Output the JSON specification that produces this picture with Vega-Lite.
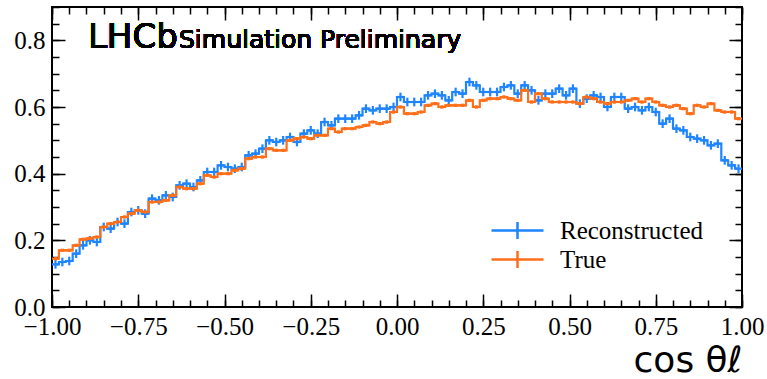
{
"$schema": "https://vega.github.io/schema/vega-lite/v6.json",
"width": 690, "height": 300,
"autosize": {"type": "none"},
"padding": {"left": 52, "top": 7, "right": 25, "bottom": 72},
"background": "white",
"config": {
  "view": {"stroke": "black", "strokeWidth": 2},
  "axis": {"grid": false, "domain": false, "labelFont": "Liberation Serif", "labelFontSize": 25, "labelColor": "black", "tickColor": "black", "tickWidth": 1.5, "labelFlush": false, "labelOverlap": false}
},
"data": {"values": [
{"lo":-1,"hi":-0.98,"c":-0.99,"r":0.128,"t":0.145,"er":0.013,"et":0.005},
{"lo":-0.98,"hi":-0.96,"c":-0.97,"r":0.135,"t":0.17,"er":0.013,"et":0.005},
{"lo":-0.96,"hi":-0.94,"c":-0.95,"r":0.138,"t":0.17,"er":0.013,"et":0.005},
{"lo":-0.94,"hi":-0.92,"c":-0.93,"r":0.16,"t":0.185,"er":0.013,"et":0.005},
{"lo":-0.92,"hi":-0.9,"c":-0.91,"r":0.185,"t":0.203,"er":0.013,"et":0.005},
{"lo":-0.9,"hi":-0.88,"c":-0.89,"r":0.2,"t":0.206,"er":0.013,"et":0.005},
{"lo":-0.88,"hi":-0.86,"c":-0.87,"r":0.195,"t":0.21,"er":0.013,"et":0.005},
{"lo":-0.86,"hi":-0.84,"c":-0.85,"r":0.24,"t":0.24,"er":0.013,"et":0.005},
{"lo":-0.84,"hi":-0.82,"c":-0.83,"r":0.235,"t":0.25,"er":0.013,"et":0.005},
{"lo":-0.82,"hi":-0.8,"c":-0.81,"r":0.255,"t":0.255,"er":0.013,"et":0.005},
{"lo":-0.8,"hi":-0.78,"c":-0.79,"r":0.25,"t":0.27,"er":0.013,"et":0.005},
{"lo":-0.78,"hi":-0.76,"c":-0.77,"r":0.285,"t":0.28,"er":0.013,"et":0.005},
{"lo":-0.76,"hi":-0.74,"c":-0.75,"r":0.29,"t":0.29,"er":0.013,"et":0.005},
{"lo":-0.74,"hi":-0.72,"c":-0.73,"r":0.28,"t":0.285,"er":0.013,"et":0.005},
{"lo":-0.72,"hi":-0.7,"c":-0.71,"r":0.325,"t":0.315,"er":0.013,"et":0.005},
{"lo":-0.7,"hi":-0.68,"c":-0.69,"r":0.32,"t":0.315,"er":0.013,"et":0.005},
{"lo":-0.68,"hi":-0.66,"c":-0.67,"r":0.335,"t":0.32,"er":0.013,"et":0.005},
{"lo":-0.66,"hi":-0.64,"c":-0.65,"r":0.33,"t":0.335,"er":0.013,"et":0.005},
{"lo":-0.64,"hi":-0.62,"c":-0.63,"r":0.365,"t":0.36,"er":0.013,"et":0.005},
{"lo":-0.62,"hi":-0.6,"c":-0.61,"r":0.37,"t":0.355,"er":0.013,"et":0.005},
{"lo":-0.6,"hi":-0.58,"c":-0.59,"r":0.36,"t":0.355,"er":0.013,"et":0.005},
{"lo":-0.58,"hi":-0.56,"c":-0.57,"r":0.38,"t":0.37,"er":0.013,"et":0.005},
{"lo":-0.56,"hi":-0.54,"c":-0.55,"r":0.405,"t":0.395,"er":0.013,"et":0.005},
{"lo":-0.54,"hi":-0.52,"c":-0.53,"r":0.405,"t":0.39,"er":0.013,"et":0.005},
{"lo":-0.52,"hi":-0.5,"c":-0.51,"r":0.425,"t":0.4,"er":0.013,"et":0.005},
{"lo":-0.5,"hi":-0.48,"c":-0.49,"r":0.42,"t":0.4,"er":0.013,"et":0.005},
{"lo":-0.48,"hi":-0.46,"c":-0.47,"r":0.415,"t":0.41,"er":0.013,"et":0.005},
{"lo":-0.46,"hi":-0.44,"c":-0.45,"r":0.42,"t":0.415,"er":0.013,"et":0.005},
{"lo":-0.44,"hi":-0.42,"c":-0.43,"r":0.455,"t":0.445,"er":0.013,"et":0.005},
{"lo":-0.42,"hi":-0.4,"c":-0.41,"r":0.46,"t":0.45,"er":0.013,"et":0.005},
{"lo":-0.4,"hi":-0.38,"c":-0.39,"r":0.475,"t":0.45,"er":0.013,"et":0.005},
{"lo":-0.38,"hi":-0.36,"c":-0.37,"r":0.5,"t":0.475,"er":0.013,"et":0.005},
{"lo":-0.36,"hi":-0.34,"c":-0.35,"r":0.495,"t":0.47,"er":0.013,"et":0.005},
{"lo":-0.34,"hi":-0.32,"c":-0.33,"r":0.5,"t":0.47,"er":0.013,"et":0.005},
{"lo":-0.32,"hi":-0.3,"c":-0.31,"r":0.51,"t":0.5,"er":0.013,"et":0.005},
{"lo":-0.3,"hi":-0.28,"c":-0.29,"r":0.495,"t":0.505,"er":0.013,"et":0.005},
{"lo":-0.28,"hi":-0.26,"c":-0.27,"r":0.52,"t":0.51,"er":0.013,"et":0.005},
{"lo":-0.26,"hi":-0.24,"c":-0.25,"r":0.53,"t":0.505,"er":0.013,"et":0.005},
{"lo":-0.24,"hi":-0.22,"c":-0.23,"r":0.52,"t":0.515,"er":0.013,"et":0.005},
{"lo":-0.22,"hi":-0.2,"c":-0.21,"r":0.555,"t":0.515,"er":0.013,"et":0.005},
{"lo":-0.2,"hi":-0.18,"c":-0.19,"r":0.545,"t":0.535,"er":0.013,"et":0.005},
{"lo":-0.18,"hi":-0.16,"c":-0.17,"r":0.565,"t":0.525,"er":0.013,"et":0.005},
{"lo":-0.16,"hi":-0.14,"c":-0.15,"r":0.565,"t":0.535,"er":0.013,"et":0.005},
{"lo":-0.14,"hi":-0.12,"c":-0.13,"r":0.565,"t":0.535,"er":0.013,"et":0.005},
{"lo":-0.12,"hi":-0.1,"c":-0.11,"r":0.575,"t":0.54,"er":0.013,"et":0.005},
{"lo":-0.1,"hi":-0.08,"c":-0.09,"r":0.595,"t":0.545,"er":0.013,"et":0.005},
{"lo":-0.08,"hi":-0.06,"c":-0.07,"r":0.59,"t":0.555,"er":0.013,"et":0.005},
{"lo":-0.06,"hi":-0.04,"c":-0.05,"r":0.595,"t":0.55,"er":0.013,"et":0.005},
{"lo":-0.04,"hi":-0.02,"c":-0.03,"r":0.595,"t":0.555,"er":0.013,"et":0.005},
{"lo":-0.02,"hi":0,"c":-0.01,"r":0.6,"t":0.585,"er":0.013,"et":0.005},
{"lo":0,"hi":0.02,"c":0.01,"r":0.63,"t":0.6,"er":0.013,"et":0.005},
{"lo":0.02,"hi":0.04,"c":0.03,"r":0.615,"t":0.58,"er":0.013,"et":0.005},
{"lo":0.04,"hi":0.06,"c":0.05,"r":0.615,"t":0.58,"er":0.013,"et":0.005},
{"lo":0.06,"hi":0.08,"c":0.07,"r":0.615,"t":0.585,"er":0.013,"et":0.005},
{"lo":0.08,"hi":0.1,"c":0.09,"r":0.635,"t":0.605,"er":0.013,"et":0.005},
{"lo":0.1,"hi":0.12,"c":0.11,"r":0.64,"t":0.61,"er":0.013,"et":0.005},
{"lo":0.12,"hi":0.14,"c":0.13,"r":0.635,"t":0.6,"er":0.013,"et":0.005},
{"lo":0.14,"hi":0.16,"c":0.15,"r":0.62,"t":0.605,"er":0.013,"et":0.005},
{"lo":0.16,"hi":0.18,"c":0.17,"r":0.645,"t":0.605,"er":0.013,"et":0.005},
{"lo":0.18,"hi":0.2,"c":0.19,"r":0.64,"t":0.605,"er":0.013,"et":0.005},
{"lo":0.2,"hi":0.22,"c":0.21,"r":0.675,"t":0.62,"er":0.013,"et":0.005},
{"lo":0.22,"hi":0.24,"c":0.23,"r":0.665,"t":0.6,"er":0.013,"et":0.005},
{"lo":0.24,"hi":0.26,"c":0.25,"r":0.645,"t":0.62,"er":0.013,"et":0.005},
{"lo":0.26,"hi":0.28,"c":0.27,"r":0.645,"t":0.625,"er":0.013,"et":0.005},
{"lo":0.28,"hi":0.3,"c":0.29,"r":0.645,"t":0.625,"er":0.013,"et":0.005},
{"lo":0.3,"hi":0.32,"c":0.31,"r":0.66,"t":0.63,"er":0.013,"et":0.005},
{"lo":0.32,"hi":0.34,"c":0.33,"r":0.665,"t":0.625,"er":0.013,"et":0.005},
{"lo":0.34,"hi":0.36,"c":0.35,"r":0.64,"t":0.62,"er":0.013,"et":0.005},
{"lo":0.36,"hi":0.38,"c":0.37,"r":0.665,"t":0.65,"er":0.013,"et":0.005},
{"lo":0.38,"hi":0.4,"c":0.39,"r":0.65,"t":0.615,"er":0.013,"et":0.005},
{"lo":0.4,"hi":0.42,"c":0.41,"r":0.62,"t":0.64,"er":0.013,"et":0.005},
{"lo":0.42,"hi":0.44,"c":0.43,"r":0.64,"t":0.625,"er":0.013,"et":0.005},
{"lo":0.44,"hi":0.46,"c":0.45,"r":0.64,"t":0.615,"er":0.013,"et":0.005},
{"lo":0.46,"hi":0.48,"c":0.47,"r":0.655,"t":0.615,"er":0.013,"et":0.005},
{"lo":0.48,"hi":0.5,"c":0.49,"r":0.635,"t":0.615,"er":0.013,"et":0.005},
{"lo":0.5,"hi":0.52,"c":0.51,"r":0.655,"t":0.615,"er":0.013,"et":0.005},
{"lo":0.52,"hi":0.54,"c":0.53,"r":0.61,"t":0.61,"er":0.013,"et":0.005},
{"lo":0.54,"hi":0.56,"c":0.55,"r":0.625,"t":0.63,"er":0.013,"et":0.005},
{"lo":0.56,"hi":0.58,"c":0.57,"r":0.635,"t":0.625,"er":0.013,"et":0.005},
{"lo":0.58,"hi":0.6,"c":0.59,"r":0.63,"t":0.615,"er":0.013,"et":0.005},
{"lo":0.6,"hi":0.62,"c":0.61,"r":0.6,"t":0.61,"er":0.013,"et":0.005},
{"lo":0.62,"hi":0.64,"c":0.63,"r":0.63,"t":0.615,"er":0.013,"et":0.005},
{"lo":0.64,"hi":0.66,"c":0.65,"r":0.63,"t":0.615,"er":0.013,"et":0.005},
{"lo":0.66,"hi":0.68,"c":0.67,"r":0.595,"t":0.62,"er":0.013,"et":0.005},
{"lo":0.68,"hi":0.7,"c":0.69,"r":0.6,"t":0.625,"er":0.013,"et":0.005},
{"lo":0.7,"hi":0.72,"c":0.71,"r":0.59,"t":0.615,"er":0.013,"et":0.005},
{"lo":0.72,"hi":0.74,"c":0.73,"r":0.6,"t":0.625,"er":0.013,"et":0.005},
{"lo":0.74,"hi":0.76,"c":0.75,"r":0.585,"t":0.615,"er":0.013,"et":0.005},
{"lo":0.76,"hi":0.78,"c":0.77,"r":0.55,"t":0.605,"er":0.013,"et":0.005},
{"lo":0.78,"hi":0.8,"c":0.79,"r":0.565,"t":0.6,"er":0.013,"et":0.005},
{"lo":0.8,"hi":0.82,"c":0.81,"r":0.535,"t":0.605,"er":0.013,"et":0.005},
{"lo":0.82,"hi":0.84,"c":0.83,"r":0.53,"t":0.595,"er":0.013,"et":0.005},
{"lo":0.84,"hi":0.86,"c":0.85,"r":0.51,"t":0.58,"er":0.013,"et":0.005},
{"lo":0.86,"hi":0.88,"c":0.87,"r":0.505,"t":0.605,"er":0.013,"et":0.005},
{"lo":0.88,"hi":0.9,"c":0.89,"r":0.5,"t":0.6,"er":0.013,"et":0.005},
{"lo":0.9,"hi":0.92,"c":0.91,"r":0.485,"t":0.61,"er":0.013,"et":0.005},
{"lo":0.92,"hi":0.94,"c":0.93,"r":0.49,"t":0.59,"er":0.013,"et":0.005},
{"lo":0.94,"hi":0.96,"c":0.95,"r":0.44,"t":0.585,"er":0.013,"et":0.005},
{"lo":0.96,"hi":0.98,"c":0.97,"r":0.425,"t":0.585,"er":0.013,"et":0.005},
{"lo":0.98,"hi":1,"c":0.99,"r":0.415,"t":0.565,"er":0.013,"et":0.005}
]},
"layer": [
  {"mark": {"type": "rule", "strokeWidth": 2.2},
   "encoding": {
     "x": {"field": "lo", "type": "quantitative", "scale": {"domain": [-1, 1], "nice": false, "zero": false},
           "axis": {"orient": "bottom", "values": [-1, -0.75, -0.5, -0.25, 0, 0.25, 0.5, 0.75, 1], "format": ".2f", "ticks": false, "labelPadding": 7,
                    "title": "cos θℓ", "titleFont": "DejaVu Sans", "titleFontSize": 36, "titleFontWeight": "normal", "titleColor": "black", "titleAnchor": "end", "titlePadding": 4}},
     "x2": {"field": "hi"},
     "y": {"field": "r", "type": "quantitative", "scale": {"domain": [0, 0.9], "nice": false, "zero": true},
           "axis": {"orient": "left", "values": [0, 0.2, 0.4, 0.6, 0.8], "format": ".1f", "ticks": false, "labelPadding": 7, "title": null}},
     "color": {"datum": "Reconstructed", "type": "nominal",
               "scale": {"domain": ["Reconstructed", "True"], "range": ["#1f85ff", "#ff6f1a"]},
               "legend": {"title": null, "orient": "none", "legendX": 451, "legendY": 209, "padding": 0,
                          "symbolType": "M-2,0H2M0,-0.66V0.66", "symbolSize": 676, "symbolStrokeWidth": 2.5,
                          "labelFont": "Liberation Serif", "labelFontSize": 25, "labelColor": "black", "labelOffset": 28, "rowPadding": -1}}
   }},
  {"mark": {"type": "line", "interpolate": "step", "strokeWidth": 2.2},
   "encoding": {
     "x": {"field": "c", "type": "quantitative", "axis": {"orient": "bottom", "values": [-1, -0.75, -0.5, -0.25, 0, 0.25, 0.5, 0.75, 1], "labels": false, "tickSize": -13, "title": null}},
     "y": {"field": "r", "type": "quantitative", "axis": {"orient": "left", "values": [0, 0.2, 0.4, 0.6, 0.8], "labels": false, "tickSize": -13, "title": null}},
     "color": {"datum": "Reconstructed", "type": "nominal"}
   }},
  {"mark": {"type": "errorbar", "thickness": 2.2},
   "encoding": {
     "x": {"field": "c", "type": "quantitative", "axis": null},
     "y": {"field": "r", "type": "quantitative", "axis": null},
     "yError": {"field": "er"},
     "color": {"datum": "Reconstructed", "type": "nominal"}
   }},
  {"mark": {"type": "rule", "strokeWidth": 2.2},
   "encoding": {
     "x": {"field": "lo", "type": "quantitative", "axis": {"orient": "top", "values": [-1, -0.75, -0.5, -0.25, 0, 0.25, 0.5, 0.75, 1], "labels": false, "tickSize": -13, "title": null}},
     "x2": {"field": "hi"},
     "y": {"field": "t", "type": "quantitative", "axis": {"orient": "right", "values": [0, 0.2, 0.4, 0.6, 0.8], "labels": false, "tickSize": -13, "title": null}},
     "color": {"datum": "True", "type": "nominal"}
   }},
  {"mark": {"type": "line", "interpolate": "step", "strokeWidth": 2.2},
   "encoding": {
     "x": {"field": "c", "type": "quantitative", "axis": {"orient": "top", "values": [-1,-0.95,-0.9,-0.85,-0.8,-0.75,-0.7,-0.65,-0.6,-0.55,-0.5,-0.45,-0.4,-0.35,-0.3,-0.25,-0.2,-0.15,-0.1,-0.05,0,0.05,0.1,0.15,0.2,0.25,0.3,0.35,0.4,0.45,0.5,0.55,0.6,0.65,0.7,0.75,0.8,0.85,0.9,0.95,1], "labels": false, "tickSize": -7, "title": null}},
     "y": {"field": "t", "type": "quantitative", "axis": {"orient": "right", "values": [0,0.05,0.1,0.15,0.2,0.25,0.3,0.35,0.4,0.45,0.5,0.55,0.6,0.65,0.7,0.75,0.8,0.85,0.9], "labels": false, "tickSize": -7, "title": null}},
     "color": {"datum": "True", "type": "nominal"}
   }},
  {"mark": {"type": "errorbar", "thickness": 3},
   "encoding": {
     "x": {"field": "c", "type": "quantitative", "axis": null},
     "y": {"field": "t", "type": "quantitative", "axis": null},
     "yError": {"field": "et"},
     "color": {"datum": "True", "type": "nominal"}
   }},
  {"mark": {"type": "text", "text": "LHCb", "font": "DejaVu Sans", "fontSize": 34, "align": "left", "baseline": "alphabetic", "fill": "black"},
   "encoding": {
     "x": {"datum": -0.896, "type": "quantitative", "axis": {"orient": "bottom", "values": [-1,-0.95,-0.9,-0.85,-0.8,-0.75,-0.7,-0.65,-0.6,-0.55,-0.5,-0.45,-0.4,-0.35,-0.3,-0.25,-0.2,-0.15,-0.1,-0.05,0,0.05,0.1,0.15,0.2,0.25,0.3,0.35,0.4,0.45,0.5,0.55,0.6,0.65,0.7,0.75,0.8,0.85,0.9,0.95,1], "labels": false, "tickSize": -7, "title": null}},
     "y": {"datum": 0.778, "type": "quantitative", "axis": {"orient": "left", "values": [0,0.05,0.1,0.15,0.2,0.25,0.3,0.35,0.4,0.45,0.5,0.55,0.6,0.65,0.7,0.75,0.8,0.85,0.9], "labels": false, "tickSize": -7, "title": null}}
   }},
  {"mark": {"type": "text", "text": "Simulation Preliminary", "font": "DejaVu Sans", "fontSize": 25, "align": "left", "baseline": "alphabetic", "fill": "black"},
   "encoding": {
     "x": {"datum": -0.632, "type": "quantitative", "axis": null},
     "y": {"datum": 0.778, "type": "quantitative", "axis": null}
   }}
],
"resolve": {"axis": {"x": "independent", "y": "independent"}}
}
